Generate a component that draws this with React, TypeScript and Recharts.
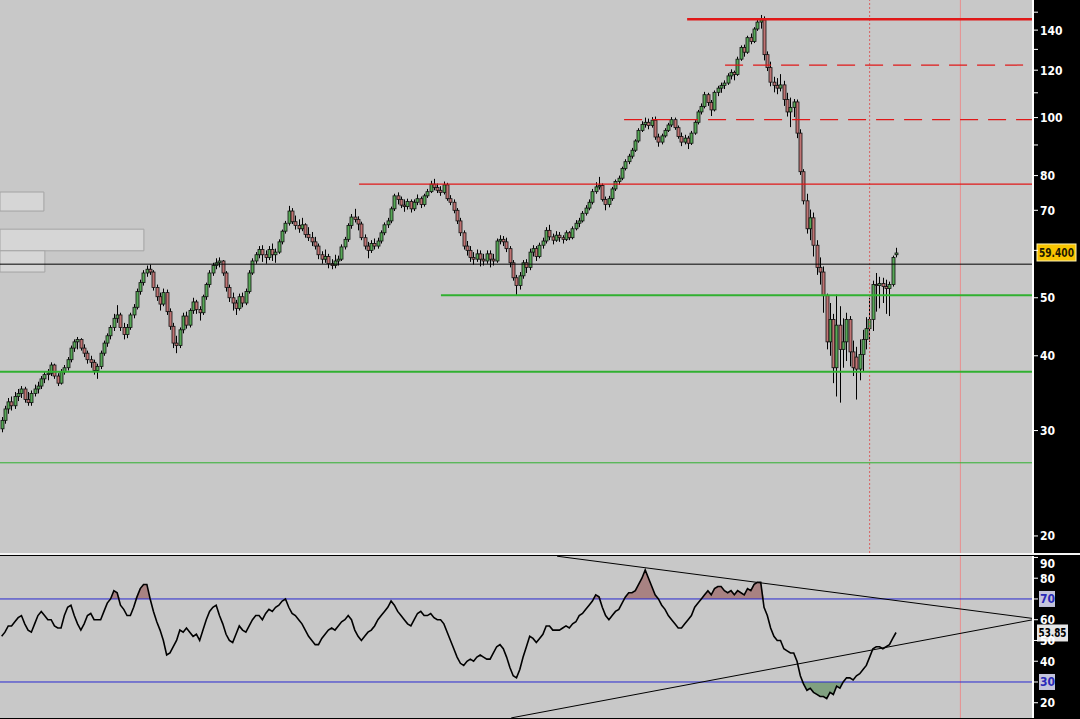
import {
  ComposedChart,
  Bar,
  Line,
  Area,
  XAxis,
  YAxis,
  CartesianGrid,
  ReferenceLine,
  ReferenceArea,
} from "recharts";

// weekly candles: [open, high, low, close]
const ohlc: [number, number, number, number][] = [
  [30.2, 31.6, 29.8, 31.2], [31.2, 33.0, 30.8, 32.6], [32.6, 34.0, 32.0, 33.5], [33.5, 34.2, 32.4, 33.0], [33.0, 34.8, 32.6, 34.2],
  [34.2, 35.2, 33.6, 34.6], [34.6, 35.6, 34.0, 35.2], [35.2, 35.5, 33.4, 33.8], [33.8, 34.8, 33.0, 33.4], [33.4, 35.0, 33.0, 34.6],
  [34.6, 35.8, 34.2, 35.2], [35.2, 36.2, 34.6, 35.6], [35.6, 37.0, 35.2, 36.6], [36.6, 37.6, 36.0, 37.2], [37.2, 38.0, 36.4, 37.4],
  [37.4, 39.0, 37.0, 38.6], [38.6, 38.8, 36.6, 37.0], [37.0, 37.4, 35.6, 36.0], [36.0, 38.0, 35.8, 37.6], [37.6, 38.6, 37.2, 38.2],
  [38.2, 39.8, 37.8, 39.4], [39.4, 41.6, 39.0, 41.2], [41.2, 42.6, 40.6, 42.2], [42.2, 43.0, 41.0, 42.6], [42.6, 42.8, 40.8, 41.2],
  [41.2, 41.8, 39.8, 40.4], [40.4, 40.8, 38.8, 39.4], [39.4, 40.0, 38.2, 39.0], [39.0, 39.4, 37.2, 37.8], [37.8, 38.8, 36.6, 38.4],
  [38.4, 40.8, 38.0, 40.4], [40.4, 42.4, 40.0, 42.0], [42.0, 43.6, 41.4, 43.2], [43.2, 45.0, 42.6, 44.6], [44.6, 47.0, 44.0, 46.2],
  [46.2, 48.6, 45.4, 46.8], [46.8, 47.2, 44.0, 44.6], [44.6, 45.4, 42.6, 43.4], [43.4, 45.2, 42.8, 44.6], [44.6, 47.2, 44.2, 46.8],
  [46.8, 48.8, 46.2, 48.2], [48.2, 51.8, 47.8, 51.2], [51.2, 53.6, 50.6, 53.0], [53.0, 55.6, 52.4, 55.0], [55.0, 56.6, 54.2, 55.8],
  [55.8, 56.8, 54.6, 55.2], [55.2, 55.6, 51.4, 52.0], [52.0, 52.6, 49.4, 50.2], [50.2, 51.0, 47.6, 48.8], [48.8, 51.8, 48.4, 51.0],
  [51.0, 51.6, 46.8, 47.4], [47.4, 48.0, 44.2, 44.8], [44.8, 45.4, 41.2, 42.0], [42.0, 43.2, 40.4, 41.6], [41.6, 44.6, 41.2, 44.2],
  [44.2, 47.2, 43.6, 46.6], [46.6, 47.4, 44.4, 45.0], [45.0, 48.0, 44.6, 47.6], [47.6, 50.0, 47.0, 49.2], [49.2, 49.6, 47.0, 47.8],
  [47.8, 48.4, 45.8, 47.2], [47.2, 50.6, 46.8, 50.2], [50.2, 53.0, 49.6, 52.6], [52.6, 55.6, 52.0, 55.0], [55.0, 57.2, 54.4, 56.6],
  [56.6, 58.2, 55.8, 57.2], [57.2, 58.4, 56.2, 57.6], [57.6, 57.8, 54.4, 55.0], [55.0, 55.4, 51.2, 52.0], [52.0, 52.6, 49.2, 50.0],
  [50.0, 51.0, 47.6, 49.0], [49.0, 49.6, 46.8, 48.0], [48.0, 50.8, 47.6, 50.2], [50.2, 51.0, 48.2, 49.0], [49.0, 51.8, 48.6, 51.2],
  [51.2, 55.6, 50.8, 55.0], [55.0, 58.2, 54.6, 57.6], [57.6, 59.6, 57.0, 59.0], [59.0, 61.0, 58.2, 60.2], [60.2, 61.2, 57.4, 59.0],
  [59.0, 60.0, 57.0, 58.4], [58.4, 61.0, 57.8, 60.2], [60.2, 61.6, 57.6, 59.0], [59.0, 60.4, 57.2, 59.6], [59.6, 62.6, 59.2, 62.0],
  [62.0, 65.0, 61.4, 64.6], [64.6, 67.2, 64.0, 66.6], [66.6, 71.2, 66.0, 69.8], [69.8, 70.6, 66.4, 67.0], [67.0, 68.6, 65.0, 66.0],
  [66.0, 67.6, 64.2, 65.2], [65.2, 68.0, 64.6, 66.2], [66.2, 66.6, 63.0, 63.8], [63.8, 65.6, 62.2, 63.0], [63.0, 64.4, 61.0, 62.0],
  [62.0, 63.2, 60.2, 61.0], [61.0, 61.6, 58.0, 59.0], [59.0, 59.8, 57.0, 58.0], [58.0, 60.2, 57.2, 58.6], [58.6, 59.2, 56.0, 57.0],
  [57.0, 58.0, 55.8, 56.6], [56.6, 59.0, 56.0, 57.6], [57.6, 58.8, 56.6, 58.0], [58.0, 61.4, 57.6, 60.8], [60.8, 63.2, 60.2, 62.6],
  [62.6, 66.6, 62.0, 66.0], [66.0, 69.0, 65.2, 68.2], [68.2, 70.4, 66.8, 67.6], [67.6, 68.4, 64.8, 66.4], [66.4, 67.0, 62.4, 63.0],
  [63.0, 63.8, 60.2, 61.0], [61.0, 62.0, 58.2, 60.0], [60.0, 62.4, 59.4, 61.6], [61.6, 62.8, 60.2, 61.0], [61.0, 63.0, 60.4, 62.2],
  [62.2, 64.8, 61.6, 64.2], [64.2, 66.8, 63.6, 66.2], [66.2, 68.0, 65.4, 67.2], [67.2, 71.0, 66.6, 70.4], [70.4, 74.6, 69.8, 74.0],
  [74.0, 75.0, 71.6, 73.0], [73.0, 73.8, 70.6, 71.4], [71.4, 73.0, 69.6, 71.0], [71.0, 73.2, 70.2, 72.4], [72.4, 73.0, 69.4, 70.4],
  [70.4, 73.0, 69.8, 72.2], [72.2, 74.4, 71.4, 73.2], [73.2, 73.8, 70.6, 71.6], [71.6, 74.6, 71.0, 74.0], [74.0, 76.0, 73.4, 75.2],
  [75.2, 78.4, 74.8, 77.4], [77.4, 79.0, 75.6, 76.4], [76.4, 77.6, 74.8, 75.6], [75.6, 76.8, 74.0, 75.0], [75.0, 78.2, 74.4, 77.2],
  [77.2, 77.8, 72.6, 73.2], [73.2, 74.2, 71.4, 72.2], [72.2, 73.0, 69.2, 70.0], [70.0, 70.6, 66.4, 67.2], [67.2, 68.0, 63.4, 64.2],
  [64.2, 64.8, 60.2, 61.0], [61.0, 62.2, 58.8, 60.0], [60.0, 61.0, 57.4, 58.4], [58.4, 59.6, 56.8, 58.0], [58.0, 60.2, 57.4, 59.2],
  [59.2, 60.0, 56.4, 58.0], [58.0, 59.2, 56.6, 57.6], [57.6, 60.0, 57.0, 59.2], [59.2, 60.0, 56.2, 58.0], [58.0, 59.2, 56.6, 57.6],
  [57.6, 62.8, 57.2, 62.2], [62.2, 63.6, 61.4, 62.6], [62.6, 63.4, 61.0, 62.0], [62.0, 63.0, 59.6, 60.4], [60.4, 61.0, 56.2, 57.2],
  [57.2, 57.8, 53.4, 54.0], [54.0, 54.6, 50.4, 52.4], [52.4, 55.2, 51.6, 54.4], [54.4, 57.8, 53.8, 57.2], [57.2, 58.0, 55.0, 56.2],
  [56.2, 60.4, 55.6, 59.6], [59.6, 61.2, 58.6, 60.4], [60.4, 61.0, 57.6, 58.6], [58.6, 61.8, 58.2, 61.2], [61.2, 63.0, 60.4, 62.2],
  [62.2, 65.6, 61.6, 64.8], [64.8, 66.2, 62.4, 63.2], [63.2, 64.0, 61.4, 62.4], [62.4, 64.6, 62.0, 63.6], [63.6, 64.4, 62.0, 63.0],
  [63.0, 63.6, 61.6, 62.6], [62.6, 64.8, 62.2, 64.2], [64.2, 64.6, 62.4, 63.0], [63.0, 65.8, 62.6, 65.2], [65.2, 67.4, 64.8, 66.6],
  [66.6, 68.0, 65.6, 67.2], [67.2, 69.8, 66.8, 69.2], [69.2, 71.4, 68.6, 70.6], [70.6, 73.0, 70.0, 72.2], [72.2, 76.0, 71.6, 75.2],
  [75.2, 78.0, 74.6, 76.6], [76.6, 79.6, 75.8, 77.0], [77.0, 77.6, 72.4, 73.0], [73.0, 73.8, 70.0, 71.6], [71.6, 74.0, 70.8, 73.2],
  [73.2, 76.6, 72.6, 76.0], [76.0, 78.8, 75.4, 78.2], [78.2, 80.0, 77.2, 79.2], [79.2, 82.8, 78.6, 82.2], [82.2, 85.2, 81.6, 84.4],
  [84.4, 87.0, 83.6, 86.2], [86.2, 89.0, 85.4, 88.2], [88.2, 92.0, 87.6, 91.4], [91.4, 96.0, 90.8, 95.2], [95.2, 98.6, 94.6, 97.4],
  [97.4, 100.0, 96.2, 98.2], [98.2, 99.6, 95.6, 97.0], [97.0, 100.2, 96.2, 99.0], [99.0, 100.4, 91.8, 92.8], [92.8, 94.0, 89.4, 91.0],
  [91.0, 94.0, 90.2, 93.2], [93.2, 96.0, 92.6, 95.2], [95.2, 98.0, 94.6, 97.2], [97.2, 100.2, 96.4, 99.2], [99.2, 100.0, 95.4, 96.2],
  [96.2, 97.0, 92.2, 93.0], [93.0, 94.4, 89.6, 91.0], [91.0, 93.6, 90.2, 92.4], [92.4, 93.2, 88.6, 90.6], [90.6, 95.0, 90.0, 94.2],
  [94.2, 99.0, 93.6, 98.2], [98.2, 103.0, 97.4, 102.2], [102.2, 105.6, 101.2, 104.4], [104.4, 110.4, 103.6, 109.2], [109.2, 110.0, 104.6, 106.0],
  [106.0, 107.0, 100.6, 103.0], [103.0, 111.0, 102.4, 110.2], [110.2, 113.0, 108.6, 112.0], [112.0, 114.4, 110.0, 113.2], [113.2, 115.4, 111.6, 114.2],
  [114.2, 118.6, 113.4, 117.4], [117.4, 120.4, 115.8, 119.0], [119.0, 119.8, 115.4, 118.0], [118.0, 126.4, 117.4, 125.2], [125.2, 132.0, 124.4, 131.0],
  [131.0, 132.4, 126.4, 128.6], [128.6, 137.0, 127.8, 136.0], [136.0, 138.2, 132.6, 134.0], [134.0, 141.6, 133.2, 140.6], [140.6, 146.0, 139.6, 144.4],
  [144.4, 148.4, 140.8, 145.6], [145.6, 147.6, 124.6, 127.4], [127.4, 129.0, 119.6, 121.2], [121.2, 124.0, 112.8, 114.6], [114.6, 117.0, 110.2, 113.2],
  [113.2, 116.4, 109.4, 112.0], [112.0, 118.2, 110.6, 113.4], [113.4, 115.2, 104.6, 107.2], [107.2, 110.0, 100.4, 102.2], [102.2, 108.0, 96.4, 104.0],
  [104.0, 107.4, 100.2, 106.2], [106.2, 107.2, 92.4, 94.2], [94.2, 95.6, 80.2, 81.2], [81.2, 82.0, 71.6, 72.6], [72.6, 74.6, 64.0, 65.2],
  [65.2, 70.2, 62.4, 68.0], [68.0, 69.4, 58.6, 61.2], [61.2, 62.4, 54.6, 56.2], [56.2, 58.4, 52.6, 55.2], [55.2, 56.4, 47.2, 50.4],
  [50.4, 50.8, 41.0, 42.2], [42.2, 49.0, 40.0, 46.0], [46.0, 47.0, 36.0, 38.2], [38.2, 50.6, 34.2, 45.0], [45.0, 48.4, 33.4, 41.0],
  [41.0, 46.2, 38.2, 42.2], [42.2, 47.2, 39.2, 46.0], [46.0, 46.6, 38.4, 40.6], [40.6, 42.4, 37.0, 38.2], [39.8, 41.4, 33.8, 38.0],
  [38.0, 42.6, 36.4, 40.2], [40.2, 44.2, 37.6, 42.6], [42.6, 46.4, 41.0, 44.4], [44.4, 50.0, 42.2, 46.0], [46.0, 53.4, 44.0, 52.6],
  [52.6, 55.0, 47.4, 52.4], [52.4, 54.2, 48.0, 52.8], [52.8, 54.0, 49.0, 52.2], [52.2, 53.6, 47.0, 51.8], [51.8, 53.2, 46.6, 52.6],
  [52.6, 58.8, 52.2, 58.4], [59.0, 60.6, 58.4, 59.4],
];

const rsiValues = [
  52, 54, 57, 57, 59, 61, 62, 58, 55, 54,
  58, 62, 64, 62, 60, 60, 57, 56, 56, 62,
  66, 67, 62, 58, 55, 58, 62, 63, 60, 60,
  60, 64, 68, 70, 74, 73, 67, 65, 62, 62,
  66, 71, 75, 77, 77, 70, 64, 59, 55, 50,
  43, 44, 47, 50, 55, 54, 56, 54, 52, 53,
  50, 55, 60, 64, 66, 67, 62, 58, 53, 50,
  49, 53, 57, 55, 54, 57, 60, 62, 62, 60,
  63, 65, 64, 66, 67, 69, 70, 66, 63, 62,
  60, 58, 55, 52, 50, 48, 48, 51, 53, 55,
  56, 55, 57, 59, 60, 62, 60, 55, 52, 50,
  52, 54, 55, 57, 60, 62, 64, 66, 69, 67,
  64, 62, 60, 58, 57, 60, 63, 64, 62, 62,
  63, 61, 60, 60, 58, 54, 50, 46, 42, 39,
  38, 40, 41, 40, 42, 43, 42, 41, 41, 44,
  47, 48, 46, 42, 37, 33, 32, 36, 42, 47,
  52, 51, 49, 51, 53, 57, 57, 55, 55, 55,
  56, 57, 56, 58, 59, 62, 63, 65, 67, 69,
  72, 71, 66, 62, 60, 62, 64, 65, 68, 71,
  73, 73, 74, 77, 80, 84, 80, 76, 72, 70,
  67, 65, 62, 60, 58, 56, 56, 58, 60, 62,
  66, 68, 70, 72, 74, 72, 75, 76, 76, 74,
  73, 74, 72, 74, 73, 72, 75, 74, 77, 78,
  78, 66, 62, 56, 52, 50, 50, 46, 45, 44,
  44, 40, 33, 29, 26, 27, 25, 24, 23, 23,
  22, 25, 24, 28, 27, 30, 32, 32, 31, 33,
  34, 36, 38, 42, 46, 47, 47, 46, 47, 48,
  51, 53.85,
];

const priceTicks = [20, 30, 40, 50, 60, 70, 80, 90, 100, 110, 120, 130, 140, 150];
const priceTickLabels = [20, 30, 40, 50, 70, 80, 100, 120, 140];
const rsiTicks = [20, 30, 40, 50, 60, 70, 80, 90];
const resistanceLevels = [146, 122.4, 99.2, 77.4];
const supportLevels = [50.5, 37.6, 26.5];
const pivotLevel = 56.9;
const lastPrice = 59.4;
const lastRsi = 53.85;

const data = ohlc.map(([open, high, low, close], i) => ({
  i,
  open,
  high,
  low,
  close,
  range: [low, high],
  rsi: rsiValues[i],
}));

const BG = "#c8c8c8";
const FONT = "'DejaVu Sans Condensed', 'Liberation Sans Narrow', 'Arial Narrow', sans-serif";
const X_DOMAIN: [number, number] = [-0.5, 312.5];
const RED = "#e01818";
const GREEN = "#30b030";

const Candle = (props: any) => {
  const { x, y, width, height, payload } = props;
  if (!payload) return null;
  const { open, close, high, low } = payload;
  const top = height >= 0 ? y : y + height;
  const h = Math.abs(height);
  const cx = Math.round(x + width / 2) + 0.5;
  const span = Math.log(high) - Math.log(low) || 1;
  const yAt = (v: number) => top + (h * (Math.log(high) - Math.log(v))) / span;
  const bTop = yAt(Math.max(open, close));
  const bBot = yAt(Math.min(open, close));
  const up = close >= open;
  return (
    <g>
      <line x1={cx} x2={cx} y1={top} y2={top + h} stroke="#000" strokeWidth={1} />
      <rect
        x={cx - 1.5}
        y={bTop}
        width={3}
        height={Math.max(1, bBot - bTop)}
        fill={up ? "#58a858" : "#c07474"}
        stroke="#111"
        strokeWidth={0.8}
      />
    </g>
  );
};

const PriceTag = (props: any) => {
  const vb = props.viewBox || {};
  const x = vb.x + vb.width + 4;
  const y = vb.y;
  return (
    <g>
      <rect x={x} y={y - 9} width={39} height={17} fill="#f8c400" stroke="#fff3b0" strokeWidth={1} />
      <text
        x={x + 2}
        y={y + 4}
        textLength={35}
        lengthAdjust="spacingAndGlyphs"
        fontFamily={FONT}
        fontWeight="bold"
        fontSize={12}
        fill="#201800"
      >
        {lastPrice.toFixed(3)}
      </text>
    </g>
  );
};

const RsiTag = (props: any) => {
  const vb = props.viewBox || {};
  const x = vb.x + vb.width + 4;
  const y = vb.y;
  return (
    <g>
      <rect x={x} y={y - 8} width={31} height={17} fill="#e6e6e6" />
      <text
        x={x + 1.5}
        y={y + 5}
        textLength={28}
        lengthAdjust="spacingAndGlyphs"
        fontFamily={FONT}
        fontWeight="bold"
        fontSize={12}
        fill="#000"
      >
        {lastRsi.toFixed(2)}
      </text>
    </g>
  );
};

const PriceTick = (props: any) => {
  const { x, y, payload } = props;
  const v = payload.value;
  if (!priceTickLabels.includes(v)) return null;
  return (
    <text x={x} y={y + 4.5} fontFamily={FONT} fontWeight="bold" fontSize={12} fill="#fff">
      {v}
    </text>
  );
};

const RsiTick = (props: any) => {
  const { x, y, payload } = props;
  const v = payload.value;
  const boxed = v === 70 || v === 30;
  const ty = v === 90 ? y + 6 : y;
  return (
    <g>
      {boxed && <rect x={x - 1} y={ty - 8} width={16} height={16} fill="#c4c4dc" />}
      <text x={x} y={ty + 4.5} fontFamily={FONT} fontWeight="bold" fontSize={12} fill={boxed ? "#2a2ab8" : "#fff"}>
        {v}
      </text>
    </g>
  );
};

export default function App() {
  return (
    <div style={{ position: "absolute", left: 0, top: 0, width: 1080, height: 719, background: "#000" }}>
      <ComposedChart width={1080} height={553} data={data} margin={{ top: 0, right: 0, bottom: 0, left: 0 }}>
        <CartesianGrid horizontal={false} vertical={false} fill={BG} fillOpacity={1} />
        <XAxis dataKey="i" type="number" domain={X_DOMAIN} hide />
        <YAxis
          orientation="right"
          width={47}
          scale="log"
          domain={[18.73, 157.2]}
          allowDataOverflow
          ticks={priceTicks}
          interval={0}
          tickSize={5}
          tickMargin={2}
          tickLine={{ stroke: "#fff" }}
          axisLine={{ stroke: "#fff", strokeWidth: 2 }}
          tick={<PriceTick />}
        />
        <ReferenceArea x1={-0.5} x2={12.8} y1={69.8} y2={75.1} fill="#d6d6d6" fillOpacity={1} stroke="#a4a4a4" />
        <ReferenceArea x1={-0.5} x2={43.1} y1={59.9} y2={65.1} fill="#d6d6d6" fillOpacity={1} stroke="#a4a4a4" />
        <ReferenceArea x1={-0.5} x2={13.1} y1={55.2} y2={59.9} fill="#d6d6d6" fillOpacity={1} stroke="#a4a4a4" />
        <ReferenceLine x={263} stroke="#d86060" strokeDasharray="2 2" />
        <ReferenceLine x={290.5} stroke="#e89090" />
        <ReferenceLine y={supportLevels[2]} stroke={GREEN} strokeWidth={1} />
        <ReferenceLine y={supportLevels[1]} stroke={GREEN} strokeWidth={2} />
        <ReferenceLine segment={[{ x: 133.1, y: supportLevels[0] }, { x: 312.5, y: supportLevels[0] }]} stroke={GREEN} strokeWidth={2} />
        <ReferenceLine y={pivotLevel} stroke="#000" strokeWidth={1} />
        <ReferenceLine segment={[{ x: 108.3, y: resistanceLevels[3] }, { x: 312.5, y: resistanceLevels[3] }]} stroke={RED} strokeWidth={1.2} />
        <ReferenceLine segment={[{ x: 188.6, y: resistanceLevels[2] }, { x: 312.5, y: resistanceLevels[2] }]} stroke={RED} strokeWidth={1.2} strokeDasharray="18 10" />
        <ReferenceLine segment={[{ x: 219.2, y: resistanceLevels[1] }, { x: 312.5, y: resistanceLevels[1] }]} stroke={RED} strokeWidth={1.2} strokeDasharray="18 10" />
        <ReferenceLine segment={[{ x: 207.7, y: resistanceLevels[0] }, { x: 312.5, y: resistanceLevels[0] }]} stroke={RED} strokeWidth={2.5} />
        <Bar dataKey="range" barSize={3} shape={<Candle />} isAnimationActive={false} />
        <ReferenceLine y={lastPrice} stroke="none" label={(p: any) => <PriceTag {...p} />} />
      </ComposedChart>
      <div style={{ height: 2, background: "#f4f4f4" }} />
      <ComposedChart width={1080} height={164} data={data} margin={{ top: 1, right: 0, bottom: 1, left: 0 }}>
        <CartesianGrid horizontal={false} vertical={false} fill={BG} fillOpacity={1} />
        <XAxis dataKey="i" type="number" domain={X_DOMAIN} hide />
        <YAxis
          orientation="right"
          width={47}
          domain={[12.65, 90.7]}
          allowDataOverflow
          ticks={rsiTicks}
          interval={0}
          tickSize={5}
          tickMargin={2}
          tickLine={{ stroke: "#fff" }}
          axisLine={{ stroke: "#fff", strokeWidth: 2 }}
          tick={<RsiTick />}
        />
        <ReferenceLine x={290.5} stroke="#e89090" />
        <Area
          dataKey={(d: any) => [70, Math.max(70, d.rsi)]}
          stroke="none"
          fill="#a88282"
          fillOpacity={1}
          isAnimationActive={false}
        />
        <Area
          dataKey={(d: any) => [Math.min(30, d.rsi), 30]}
          stroke="none"
          fill="#80a080"
          fillOpacity={1}
          isAnimationActive={false}
        />
        <ReferenceLine y={70} stroke="#2828d0" />
        <ReferenceLine y={30} stroke="#2828d0" />
        <ReferenceLine segment={[{ x: 168.3, y: 90.6 }, { x: 312.5, y: 60.6 }]} stroke="#000" />
        <ReferenceLine segment={[{ x: 154.4, y: 12.7 }, { x: 312.5, y: 60.0 }]} stroke="#000" />
        <Line dataKey="rsi" stroke="#000" strokeWidth={1.6} dot={false} isAnimationActive={false} />
        <ReferenceLine y={lastRsi} stroke="none" label={(p: any) => <RsiTag {...p} />} />
      </ComposedChart>
    </div>
  );
}
